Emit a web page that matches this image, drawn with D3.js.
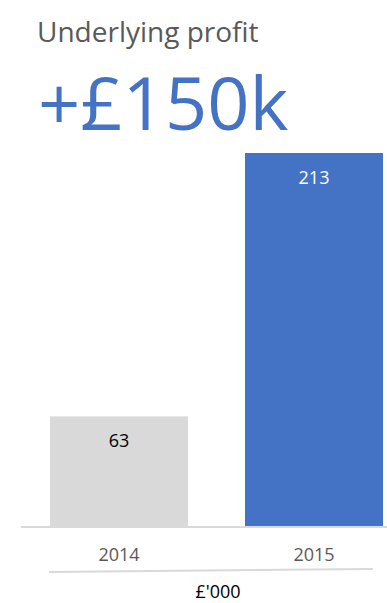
<!DOCTYPE html>
<html>
<head>
<meta charset="utf-8">
<script src="https://cdn.jsdelivr.net/npm/d3@7"></script>
<style>
  html, body { margin: 0; padding: 0; background: #fff; }
  svg { display: block; }
</style>
</head>
<body>
<svg id="chart" width="387" height="603"></svg>
<script>
// Underlying profit by year, £'000
const years = ["2014", "2015"];
const profit = [63, 213];
const barColors = ["#D9D9D9", "#4472C4"];
const labelColors = ["#000000", "#FFFFFF"];
const headline = "+£150k";
const title = "Underlying profit";
const unitLabel = "£'000";

const svg = d3.select("#chart");
const font = "'Open Sans', 'Noto Sans', sans-serif";

const x = d3.scaleBand()
  .domain(years)
  .range([50, 383])
  .paddingInner(57 / 195)
  .paddingOuter(0);

const y = d3.scaleLinear()
  .domain([0, d3.max(profit)])
  .range([527, 153]);

// Title and headline figure
svg.append("text")
  .attr("x", 37).attr("y", 42)
  .attr("font-family", font).attr("font-size", 28)
  .attr("fill", "#595959")
  .text(title);

svg.append("text")
  .attr("x", 38).attr("y", 130)
  .attr("font-family", font).attr("font-size", 74)
  .attr("fill", "#4472C4")
  .text(headline);

// Bars
const data = years.map((yr, i) => ({ year: yr, value: profit[i], i }));

svg.selectAll("rect.bar")
  .data(data)
  .join("rect")
  .attr("class", "bar")
  .attr("x", d => x(d.year))
  .attr("width", x.bandwidth())
  .attr("y", d => y(d.value))
  .attr("height", d => y(0) - y(d.value))
  .attr("fill", d => barColors[d.i]);

// Value labels inside the bars
svg.selectAll("text.val")
  .data(data)
  .join("text")
  .attr("class", "val")
  .attr("x", d => x(d.year) + x.bandwidth() / 2)
  .attr("y", d => y(d.value) + 31)
  .attr("text-anchor", "middle")
  .attr("font-family", font).attr("font-size", 18)
  .attr("fill", d => labelColors[d.i])
  .text(d => d.value);

// Category axis
const axis = d3.axisBottom(x).tickSize(0).tickPadding(0);
const gAxis = svg.append("g")
  .attr("transform", `translate(0,${y(0)})`)
  .call(axis);
gAxis.select(".domain").remove();
gAxis.selectAll("text")
  .attr("y", 34)
  .attr("dy", 0)
  .attr("font-family", font).attr("font-size", 18)
  .attr("fill", "#595959");

svg.append("line")
  .attr("x1", 21).attr("x2", 387)
  .attr("y1", y(0)).attr("y2", y(0))
  .attr("stroke", "#D9D9D9").attr("stroke-width", 2);

// Divider above the unit label
svg.append("line")
  .attr("x1", 49).attr("x2", 373)
  .attr("y1", 572).attr("y2", 569)
  .attr("stroke", "#D9D9D9").attr("stroke-width", 2);

svg.append("text")
  .attr("x", 218).attr("y", 598)
  .attr("text-anchor", "middle")
  .attr("font-family", font).attr("font-size", 18)
  .attr("fill", "#000")
  .text(unitLabel);
</script>
</body>
</html>
